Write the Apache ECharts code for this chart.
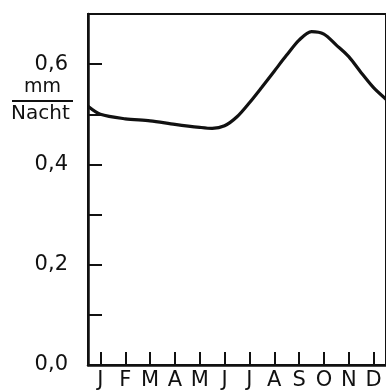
<!DOCTYPE html>
<html><head><meta charset="utf-8">
<script src="https://cdn.jsdelivr.net/npm/echarts@6/dist/echarts.min.js"></script>
<style>html,body{margin:0;padding:0;background:#fff}#c{width:386px;height:392px}</style>
</head><body><div id="c"></div>
<script>
// Data
var months = ['J','F','M','A','M','J','J','A','S','O','N','D'];
var monthPos = [0, 0.5, 1.5, 2.5, 3.5, 4.5, 5.0, 5.5, 6.0, 6.5, 7.0, 7.5, 8.0, 8.5, 9.0, 9.5, 10.0, 10.5, 11.0, 11.5, 12];
var evaporation = [0.516, 0.500, 0.491, 0.487, 0.480, 0.474, 0.472, 0.477, 0.495, 0.523, 0.554, 0.586, 0.618, 0.648, 0.665, 0.660, 0.638, 0.615, 0.583, 0.553, 0.530];
var yTickLabels = {0: '0,0', 2: '0,2', 4: '0,4', 6: '0,6'};
var unitTop = 'mm', unitBottom = 'Nacht';

var seriesData = monthPos.map(function (m, i) { return [m, evaporation[i]]; });
var font = '"DejaVu Sans", sans-serif';
var ink = '#111';

var chart = echarts.init(document.getElementById('c'), null, {renderer: 'canvas'});
chart.setOption({
  animation: false,
  backgroundColor: '#fff',
  grid: {left: 88, top: 14, right: -1, bottom: 27, show: true, borderColor: ink, borderWidth: 2, backgroundColor: 'transparent'},
  xAxis: [
    {type: 'value', min: 0, max: 12, show: false},
    {type: 'category', data: months, position: 'bottom', boundaryGap: true,
     axisLine: {show: true, lineStyle: {color: ink, width: 2.5}},
     axisTick: {show: true, inside: true, alignWithLabel: true, length: 13, lineStyle: {color: ink, width: 2}},
     axisLabel: {color: ink, fontFamily: font, fontSize: 21, margin: 5, interval: 0},
     splitLine: {show: false}}
  ],
  yAxis: {type: 'value', min: 0, max: 0.7, interval: 0.1,
    axisLine: {show: true, lineStyle: {color: ink, width: 2.5}},
    axisTick: {show: true, inside: true, length: 14, lineStyle: {color: ink, width: 2}},
    axisLabel: {color: ink, fontFamily: font, fontSize: 21, margin: 20,
      formatter: function (v) { var k = Math.round(v * 10); return yTickLabels[k] || ''; }},
    splitLine: {show: false}},
  graphic: [
    {type: 'text', left: 24, top: 78, style: {text: unitTop, font: '19px ' + font, fill: ink}},
    {type: 'line', shape: {x1: 12, y1: 101, x2: 73, y2: 101}, style: {stroke: ink, lineWidth: 2}},
    {type: 'text', left: 11, top: 104, style: {text: unitBottom, font: '20px ' + font, fill: ink}}
  ],
  series: [{type: 'line', xAxisIndex: 0, data: seriesData, smooth: 0.3, showSymbol: false,
    lineStyle: {color: ink, width: 3.2}}]
});
</script></body></html>
